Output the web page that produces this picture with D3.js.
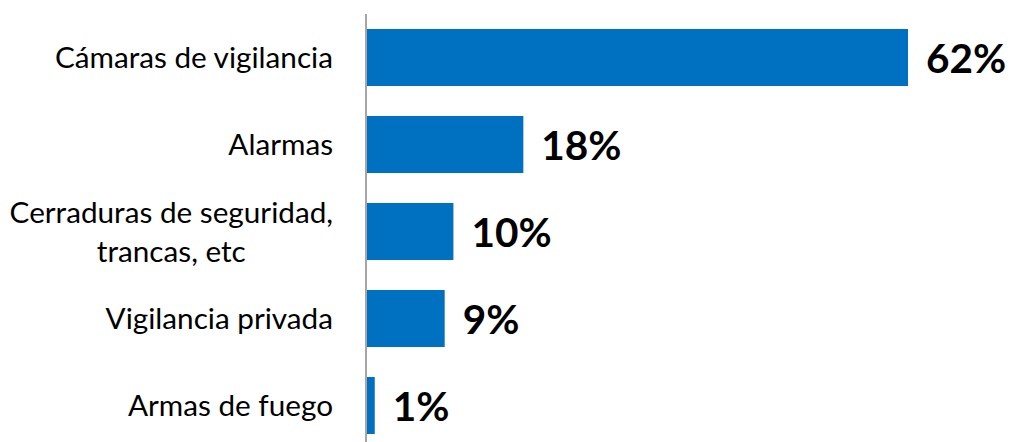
<!DOCTYPE html>
<html>
<head>
<meta charset="utf-8">
<script src="https://cdn.jsdelivr.net/npm/d3@7"></script>
<style>
  body { margin: 0; background: #fff; }
  text { font-family: Lato, "Open Sans", sans-serif; }
</style>
</head>
<body>
<div id="chart"></div>
<script>
var categories = [
  ["Cámaras de vigilancia"],
  ["Alarmas"],
  ["Cerraduras de seguridad,", "trancas, etc"],
  ["Vigilancia privada"],
  ["Armas de fuego"]
];
var values = [62, 18, 10, 9, 1];
var valueLabels = ["62%", "18%", "10%", "9%", "1%"];

var width = 1011, height = 442;
var axisX = 366;

var svg = d3.select("#chart").append("svg")
  .attr("width", width)
  .attr("height", height);

var y = d3.scaleBand()
  .domain(d3.range(categories.length))
  .range([14, 449])
  .paddingInner(0.345)
  .paddingOuter(0.1725);

var x = d3.scaleLinear()
  .domain([0, 62])
  .range([axisX, 908]);

// bars
svg.selectAll("rect.bar")
  .data(values)
  .enter()
  .append("rect")
  .attr("class", "bar")
  .attr("x", x(0))
  .attr("y", function(d, i) { return y(i); })
  .attr("width", function(d) { return x(d) - x(0); })
  .attr("height", y.bandwidth())
  .attr("fill", "#0070C0");

// axis line
svg.append("line")
  .attr("x1", axisX).attr("x2", axisX)
  .attr("y1", 14).attr("y2", height)
  .attr("stroke", "#A6A6A6")
  .attr("stroke-width", 2);

// value labels
svg.selectAll("text.val")
  .data(values)
  .enter()
  .append("text")
  .attr("class", "val")
  .attr("x", function(d) { return x(d) + 18; })
  .attr("y", function(d, i) { return y(i) + y.bandwidth() / 2; })
  .attr("dy", "0.38em")
  .attr("font-size", 40.5)
  .attr("font-weight", "bold")
  .attr("fill", "#000")
  .text(function(d, i) { return valueLabels[i]; });

// category labels (multi-line ones centred on each other, block right-aligned)
var lineH = 39;
var labelRight = axisX - 33;
svg.selectAll("text.cat")
  .data(categories)
  .enter()
  .append("text")
  .attr("class", "cat")
  .attr("text-anchor", "middle")
  .attr("font-size", 29.7)
  .attr("fill", "#000")
  .each(function(lines, i) {
    var el = d3.select(this);
    var cy = y(i) + y.bandwidth() / 2;
    var top = cy - (lines.length - 1) * lineH / 2;
    var spans = el.selectAll("tspan")
      .data(lines)
      .enter()
      .append("tspan")
      .attr("y", function(d, j) { return top + j * lineH; })
      .attr("dy", "0.36em")
      .text(function(d) { return d; });
    var maxW = d3.max(spans.nodes(), function(n) { return n.getComputedTextLength(); });
    spans.attr("x", labelRight - maxW / 2);
  });
</script>
</body>
</html>
